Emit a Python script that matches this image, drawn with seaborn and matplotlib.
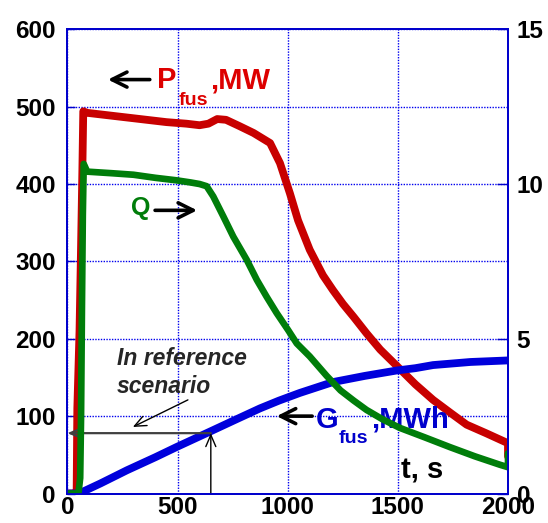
import numpy as np
import matplotlib
matplotlib.use('Agg')
import matplotlib.pyplot as plt
import seaborn as sns

# time axis, s
t_pfus = [0, 38, 42, 45, 55, 62, 68, 72, 90, 150, 300, 450, 540, 600, 640, 680, 720, 780, 845,
          920, 965, 1010, 1047, 1100, 1160, 1205, 1251, 1300, 1358, 1420, 1495, 1580, 1660, 1740,
          1812, 1900, 1977, 2000, 2000]
# fusion power, MW
p_fus = [0, 0, 5, 110, 210, 320, 420, 494, 492, 490, 485, 480, 478, 476, 478, 484, 483, 475, 466,
         453, 427, 388, 353, 315, 282, 263, 245, 228, 207, 186, 165, 141, 121, 104,
         89, 78, 68, 65, 48]

t_q = [0, 50, 58, 62, 66, 70, 74, 90, 200, 300, 400, 495, 560, 600, 632, 662, 708, 753, 814, 860,
       905, 950, 1002, 1041, 1100, 1177, 1240, 1300, 1358, 1430, 1509, 1620, 1736, 1850, 1963,
       2000, 2000]
# gain Q
q = [0, 0, 0.5, 2.5, 6.0, 9.0, 10.65, 10.4, 10.35, 10.3, 10.2, 10.12, 10.05, 10.0, 9.93, 9.6,
     8.95, 8.3, 7.55, 6.9, 6.35, 5.83, 5.28, 4.85, 4.43, 3.8, 3.33, 3.0, 2.7, 2.4, 2.12, 1.82,
     1.5, 1.2, 0.93, 0.85, 1.3]

t_g = [0, 50, 60, 150, 270, 400, 495, 647, 760, 874, 960, 1055, 1130, 1205, 1350, 1495, 1580,
       1660, 1830, 2000]
# fusion energy, MWh
g_fus = [0, 0, 1, 13, 30, 47, 60, 80, 95, 110, 120, 130, 137, 144, 152, 159, 162, 166, 170, 172]

x_ticks = [0, 500, 1000, 1500, 2000]
y_ticks = [0, 100, 200, 300, 400, 500, 600]
q_ticks = [0, 5, 10, 15]

# reference scenario point
t_ref = 651
g_ref = 78

red = '#c80000'
green = '#007d0a'
blue = '#0000dc'

sns.set_style('white')
plt.rcParams['font.family'] = ['Liberation Sans', 'DejaVu Sans']
plt.rcParams['font.weight'] = 'bold'

fig = plt.figure(figsize=(5.48, 5.23), dpi=100)
ax = fig.add_axes([0.123, 0.0564, 0.804, 0.8876])
ax2 = ax.twinx()

sns.lineplot(x=t_pfus, y=p_fus, ax=ax, color=red, lw=5.6, estimator=None, sort=False, legend=False)
sns.lineplot(x=t_g, y=g_fus, ax=ax, color=blue, lw=5.6, estimator=None, sort=False, legend=False)
sns.lineplot(x=t_q, y=q, ax=ax2, color=green, lw=4.8, estimator=None, sort=False, legend=False)

ax.set_xlim(0, 2000)
ax.set_ylim(0, 600)
ax2.set_ylim(0, 15)
ax.set_xticks(x_ticks)
ax.set_yticks(y_ticks)
ax2.set_yticks(q_ticks)
ax.set_xlabel('')
ax.set_ylabel('')
ax2.set_ylabel('')

ax.grid(True, color='#0000ee', linestyle=(0, (1, 1)), linewidth=1)
ax2.grid(False)
for a in (ax, ax2):
    for s in a.spines.values():
        s.set_color('#0000cc')
        s.set_linewidth(1.3)

ax.tick_params(axis='y', direction='in', length=6, width=1, color='#0000cc', pad=8.3,
               labelsize=17.5, labelcolor='black')
ax.tick_params(axis='x', direction='in', length=5, width=1, color='#0000cc', pad=1.8,
               labelsize=17.5, labelcolor='black')
ax2.tick_params(axis='y', direction='in', length=8, width=1, color='#0000cc', pad=6.2,
                labelsize=17.5, labelcolor='black')
for lab in ax.get_xticklabels() + ax.get_yticklabels() + ax2.get_yticklabels():
    lab.set_fontweight('bold')

big_arrow = dict(arrowstyle='->, head_length=0.6, head_width=0.3', lw=2.6, color='black',
                 mutation_scale=18, shrinkA=0, shrinkB=0)
thin_arrow = dict(arrowstyle='->, head_length=0.7, head_width=0.3', lw=1, color='black',
                  mutation_scale=12, shrinkA=0, shrinkB=0)

# P_fus label
ax.annotate('', xy=(184, 535), xytext=(374, 535), arrowprops=big_arrow)
tp = ax.text(406, 524, 'P', color='#dd0000', fontsize=21, fontweight='bold', va='baseline')
tf = ax.annotate('fus', xy=(1, 0), xycoords=tp, xytext=(1.5, -10.8), textcoords='offset points',
                 color='#dd0000', fontsize=14, fontweight='bold', va='bottom')
ax.annotate(',MW', xy=(1, 0), xycoords=tf, xytext=(1.5, 10.8), textcoords='offset points',
            color='#dd0000', fontsize=21, fontweight='bold', va='bottom')

# Q label
ax.text(290, 360, 'Q', color=green, fontsize=18, fontweight='bold', va='baseline')
ax.annotate('', xy=(589, 366), xytext=(398, 366), arrowprops=big_arrow)

# G_fus label
ax.annotate('', xy=(950, 100), xytext=(1111, 100), arrowprops=big_arrow)
tg = ax.text(1127, 85, 'G', color='#0000cc', fontsize=21, fontweight='bold', va='baseline')
tgf = ax.annotate('fus', xy=(1, 0), xycoords=tg, xytext=(0.5, -9.4), textcoords='offset points',
                  color='#0000cc', fontsize=14, fontweight='bold', va='bottom')
ax.annotate(',MWh', xy=(1, 0), xycoords=tgf, xytext=(1.8, 9.4), textcoords='offset points',
            color='#0000cc', fontsize=21, fontweight='bold', va='bottom')

ax.text(1516, 20, 't, s', color='black', fontsize=21, fontweight='bold', va='baseline')

# reference scenario
ax.text(225, 166, 'In reference', fontsize=16.5, fontweight='bold', fontstyle='italic',
        va='baseline')
ax.text(225, 130, 'scenario', fontsize=16.5, fontweight='bold', fontstyle='italic',
        va='baseline')
ax.annotate('', xy=(297, 86), xytext=(547, 121), arrowprops=thin_arrow)
ax.annotate('', xy=(0, g_ref), xytext=(t_ref, g_ref),
            arrowprops=dict(thin_arrow, lw=1.6, color='#404040'))
ax.annotate('', xy=(t_ref, g_ref), xytext=(t_ref, 0), arrowprops=thin_arrow)

fig.savefig('out.png', dpi=100)
